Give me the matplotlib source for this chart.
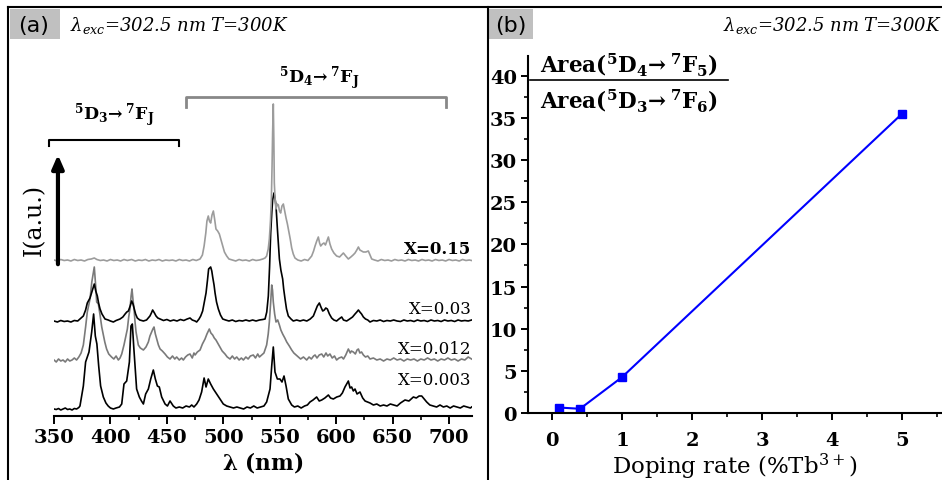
import matplotlib
matplotlib.use("Agg")
import matplotlib.pyplot as plt
from matplotlib.lines import Line2D
from matplotlib.patches import Rectangle
from matplotlib.ticker import MultipleLocator

plt.rcParams['font.family'] = ['DejaVu Serif']
plt.rcParams['mathtext.fontset'] = 'dejavuserif'

# emission spectra, (wavelength nm, intensity a.u. above own baseline)
spec_003 = [(350, 1), (352, 0.5), (354, 1.5), (356, 0), (358, 1), (360, 2), (362, 0.5), (364, 1), (366, 0), (368, 1.5),
	(370, 1), (372, 2.5), (373, 4), (376, 24), (378, 48), (381, 58), (383.4, 78), (385.1, 96), (386.6, 74), (388, 66),
	(389.6, 44), (391.3, 24), (393.7, 13), (396, 7), (398, 4), (400, 2), (402.6, 1), (405, 2), (408, 3), (410, 6),
	(412, 26), (414.4, 29), (416.8, 48), (418.2, 84), (419.4, 86), (420.6, 64), (421.8, 44), (423.2, 21), (425.6, 13), (427.5, 9),
	(429.2, 6), (431.2, 16), (433.6, 21), (435.7, 31), (438, 40), (439.8, 31), (441.6, 24), (443.3, 23), (445.4, 13), (448.4, 6),
	(450.5, 4), (452.8, 9), (455.7, 4), (458, 2), (461, 3), (464, 2), (467, 4), (470, 3), (472, 5), (474, 3),
	(476.4, 6), (478.5, 10), (480.8, 18), (483, 32), (484.7, 23), (486.7, 31), (488.8, 26), (491.2, 21), (494.1, 16), (497.1, 11),
	(500, 6), (503, 4), (506, 3), (509, 2), (512, 3), (515, 2), (518, 1), (521, 3), (524, 2), (527, 4),
	(530, 2), (533, 3), (536, 4), (538.4, 8), (541.4, 21), (542.9, 44), (544.3, 63), (545.8, 38), (547.9, 31), (550.2, 31),
	(552, 28), (553.8, 34), (555.6, 24), (557.6, 11), (560.6, 5), (563, 3), (566, 4), (569, 2), (572, 4), (574.5, 5),
	(576.8, 8), (579.5, 10), (582.7, 13), (585, 9), (587.2, 10), (590, 12), (593.1, 15), (595, 12), (597.5, 11), (600.5, 13),
	(603.4, 14), (605.5, 17), (607.8, 23), (610.8, 29), (612.3, 22), (613.7, 23), (615.2, 19), (616.7, 21), (618.5, 16), (621.1, 18),
	(623.5, 12), (625.6, 9), (630, 7), (633, 5), (636, 6), (639, 4), (642, 5), (645, 4), (648, 6), (651, 5),
	(654, 4), (657, 7), (661, 10), (664.5, 9), (668.4, 13), (671, 12), (673.5, 14), (675.8, 14), (678, 11), (680.2, 8),
	(683, 5), (686, 4), (689, 3), (692, 5), (695, 3), (698, 4), (701, 2), (704, 4), (707, 3), (710, 2),
	(713, 4), (716, 3), (719, 2), (720, 3)]

spec_012 = [(350, 2), (352, 0), (354, 3), (356, 1), (358, 2), (360, 0), (362, 3), (364, 1), (366, 2), (368, 4),
	(370, 2), (372, 5), (374, 9), (376, 17), (378, 35), (379.5, 50), (381.9, 63), (383.5, 80), (385.7, 95), (387, 75),
	(387.8, 60), (389.3, 58), (390.8, 47), (392.3, 35), (393.7, 27), (395, 20), (396.6, 13), (398.5, 8), (401, 5), (403, 3),
	(405, 6), (407, 2), (408.5, 4), (410, 8), (412, 17), (413.5, 25), (415, 33), (416.2, 45), (417.3, 53), (418.3, 66),
	(419.1, 73), (420, 62), (420.9, 53), (421.8, 40), (422.7, 30), (424.7, 17), (426.5, 14), (429.2, 12), (431.5, 15), (433.6, 20),
	(435, 26), (436.5, 30), (437.6, 33), (438.6, 35), (439.8, 28), (441, 23), (442.5, 17), (444, 13), (446, 11), (448.4, 8),
	(450.5, 5), (452.8, 3), (455, 6), (457, 3), (458.7, 5), (461, 2), (463, 4), (464.6, 2), (466.5, 5), (468.5, 7),
	(470.5, 8), (472.5, 4), (474, 9), (475, 7), (477, 10), (479.4, 12), (481.5, 18), (483.8, 23), (485.5, 28), (487.6, 33),
	(489, 29), (490.6, 27), (492, 24), (493.5, 22), (495, 19), (497, 15), (499, 11), (501.5, 8), (503.5, 5), (506, 3),
	(508, 6), (510, 3), (511.9, 5), (514, 2), (516, 4), (517.8, 2), (520, 5), (522, 3), (524, 6), (526.6, 7),
	(528.5, 4), (530.5, 8), (532, 5), (534, 7), (536, 9), (538.4, 17), (539.8, 28), (540.8, 40), (542, 60), (542.9, 77),
	(543.6, 72), (544.3, 60), (545.5, 48), (546.7, 40), (548.2, 42), (549.7, 37), (551, 32), (552.6, 28), (554.5, 24), (556.2, 20),
	(558.5, 16), (560.6, 12), (562.5, 9), (564.5, 7), (566.5, 5), (568.5, 3), (571, 5), (573.9, 2), (576, 5), (578, 3),
	(580, 6), (581.3, 7), (583, 4), (585, 7), (587.2, 8), (589, 5), (591, 9), (592.5, 6), (594.5, 8), (596.5, 4),
	(598.5, 6), (600.4, 2), (602.5, 4), (604.9, 5), (606.5, 3), (608.5, 7), (610.8, 13), (612.5, 9), (613.5, 11), (615.2, 10),
	(617, 8), (618.5, 12), (619.7, 13), (621, 9), (622.5, 10), (624.1, 7), (626, 5), (628, 6), (630, 3), (633, 4),
	(636, 2), (639, 3), (642, 1), (645, 3), (648, 2), (651, 4), (654, 2), (657, 3), (660, 1), (663, 3),
	(666, 2), (669, 3), (672, 1), (675, 3), (678, 2), (681, 4), (684, 2), (687, 3), (690, 1), (693, 3),
	(696, 2), (699, 4), (702, 2), (705, 3), (708, 1), (711, 3), (714, 2), (717, 5), (720, 3)]

spec_03 = [(350, 1), (353, 0), (356, 1.5), (359, 0.5), (362, 1), (365, 0), (368, 1.5), (371, 1), (373, 3), (376, 6),
	(378, 12), (379.5, 19), (381.9, 24), (383.5, 30), (385.7, 38), (387, 31), (388.4, 26), (389.5, 19), (390.8, 13), (392.5, 8),
	(395.2, 3), (398, 2), (400, 1), (402.6, 0), (405, 1.5), (408.5, 3), (411, 5), (413, 8), (414.5, 10), (415.9, 11),
	(417.5, 16), (418.8, 21), (420, 18), (420.9, 14), (422.3, 8), (423.8, 4), (426, 2), (429.2, 1), (432, 2), (435, 6),
	(436.3, 9), (437.4, 12), (439, 9), (440.4, 6), (442, 4), (444, 3), (447, 1.5), (450, 2.5), (453, 1), (456, 2),
	(459, 1), (462, 2.5), (465, 1.5), (468, 3), (470.5, 4), (472.5, 2), (475, 1), (476.4, 0), (478.5, 3), (480, 6),
	(481.7, 11), (483.2, 20), (484.7, 29), (486, 42), (487, 53), (488.8, 55), (489.8, 51), (490.6, 45), (491.8, 37), (492.7, 29),
	(494, 20), (495.6, 13), (497.5, 7), (499.5, 3), (502, 2), (505, 1), (508, 2), (511, 0.5), (514, 1.5), (517, 1),
	(520, 2), (523, 1), (526, 2), (529, 1), (532, 2), (535, 2.5), (537, 3), (538.5, 10), (539.9, 26), (541, 55),
	(542, 89), (543, 110), (543.7, 122), (544.9, 129), (545.8, 124), (546.7, 116), (548, 92), (549.7, 63), (551, 52), (552.6, 43),
	(553.5, 33), (554.7, 23), (556, 13), (557.6, 6), (560, 3), (562, 1), (565, 2), (568, 1), (571, 2), (574, 1),
	(577, 3), (579.8, 6), (581.5, 11), (583.3, 16), (585.1, 19), (586.5, 15), (588.1, 11), (589.5, 12), (590.8, 14), (592.2, 13),
	(594, 8), (596, 4), (598, 2), (600.4, 1), (602.5, 3), (604.9, 5), (606.5, 2), (609.3, 1), (612, 3), (614.5, 5),
	(616.7, 8), (618.3, 10), (619.7, 12), (621, 10), (622.5, 8), (624.1, 5), (626, 3), (628, 2), (630, 0), (633, 1.5),
	(636, 1), (639, 2), (642, 0.5), (645, 1.5), (648, 1), (651, 2), (654, 1), (657, 0.5), (660, 2), (663, 1),
	(666, 1.5), (669, 0.5), (672, 2), (675, 1), (678, 1.5), (681, 0.5), (684, 2), (687, 1), (690, 1.5), (693, 0.5),
	(696, 2), (699, 1), (702, 1.5), (705, 0.5), (708, 2), (711, 1), (714, 1.5), (717, 1), (720, 2)]

spec_15 = [(350, 1), (353, 0), (356, 1.5), (359, 0.5), (362, 1), (365, 0), (368, 1.5), (371, 0.5), (374, 1), (377, 0),
	(380, 1.5), (383, 2), (385.7, 3), (388, 1.5), (391, 0.5), (394, 1), (397, 0), (400, 1.5), (403, 0.5), (406, 1),
	(409, 0), (412, 1.5), (415, 0.5), (418.8, 1.5), (422, 0), (425, 1), (428, 0.5), (431, 1.5), (434, 0), (437, 1),
	(440, 0.5), (443, 1.5), (446, 0), (449, 1), (452, 0.5), (455, 1), (458, 0), (461, 1.5), (464, 0.5), (467, 1),
	(470, 0), (473, 1.5), (476, 0.5), (479.4, 2), (481.5, 6), (483, 15), (484.5, 28), (485.5, 40), (486.7, 45), (487.7, 40),
	(488.8, 38), (490, 46), (491.2, 50), (492.3, 42), (493.5, 32), (495, 30), (496.5, 27), (498, 21), (499.5, 15), (501, 9),
	(503, 5), (505, 2), (508, 1), (511, 0), (514, 1.5), (517, 0.5), (520, 1), (523, 0), (526, 1.5), (529, 0.5),
	(532, 1), (535, 2), (537, 3), (538.4, 5), (539.8, 12), (540.8, 22), (541.8, 40), (542.6, 62), (543.2, 95), (543.7, 128),
	(544.3, 157), (544.8, 120), (545.2, 78), (546, 60), (546.7, 52), (547.8, 57), (548.8, 56), (549.8, 50), (550.8, 48), (552, 55),
	(553.2, 57), (554.4, 50), (555.6, 43), (556.8, 37), (558, 30), (559.3, 22), (560.6, 13), (562, 7), (563.5, 3), (566, 1),
	(569, 0), (572, 1.5), (575, 0.5), (578.3, 5), (580, 10), (581.3, 15), (582.8, 20), (584.2, 24), (585.3, 18), (586.3, 15),
	(587.8, 17), (589.2, 18), (590.5, 16), (591.8, 20), (593.1, 24), (594.5, 17), (596, 12), (598, 8), (600.4, 5), (603, 4),
	(606.4, 8), (608.5, 5), (610.8, 2), (613, 4), (615, 6), (616.7, 8), (618.3, 11), (619.7, 14), (621, 11), (622.5, 10),
	(624.1, 9), (626.3, 9), (628.5, 10), (630, 6), (631.5, 2), (634, 1), (637, 0), (640, 1.5), (643, 0.5), (646, 1),
	(649, 0), (652, 1.5), (655, 0.5), (658, 1), (661, 0), (664, 1.5), (667, 0.5), (670, 1), (673, 0), (676, 1.5),
	(679, 0.5), (682, 1), (685, 0), (688, 1.5), (691, 0.5), (694, 1), (697, 0), (700, 1.5), (703, 0.5), (706, 1),
	(709, 0), (712, 1.5), (715, 0.5), (718, 1), (720, 0.5)]

spec_labels = ["X=0.003", "X=0.012", "X=0.03", "X=0.15"]

# area ratio vs doping
doping = [0.1, 0.4, 1, 5]
ratio = [0.65, 0.5, 4.25, 35.5]

W, H = 942, 481

def fx(px):
	return px / W

def fy(py):
	return 1 - py / H

fig = plt.figure(figsize=(9.42, 4.81), dpi=100)

# ---- panel (a)
ax1 = fig.add_axes([fx(54), fy(417), fx(471.6) - fx(54), fy(8) - fy(417)])
ax1.set_xlim(350, 720)
ax1.set_ylim(0, 409)

curves = [
	(spec_003, 6, "black", 1.2),
	(spec_012, 54, "#7a7a7a", 1.2),
	(spec_03, 94, "black", 1.2),
	(spec_15, 155, "#9c9c9c", 1.2),
]
for pts, off, col, lw in curves:
	wl = [p[0] for p in pts]
	inten = [p[1] + off for p in pts]
	ax1.plot(wl, inten, color=col, lw=lw)

for name, yy, wt in zip(spec_labels, [36, 67, 108, 167], ["normal", "normal", "normal", "bold"]):
	ax1.text(720, yy, name, ha="right", va="center", fontsize=12, fontweight=wt)

for s in ["top", "left", "right"]:
	ax1.spines[s].set_visible(False)
ax1.spines["bottom"].set_linewidth(1.5)
ax1.set_yticks([])
ax1.xaxis.set_major_locator(MultipleLocator(50))
ax1.xaxis.set_minor_locator(MultipleLocator(25))
ax1.tick_params(axis="x", which="major", direction="out", length=6, width=1.4, labelsize=14, pad=3)
ax1.tick_params(axis="x", which="minor", direction="out", length=3, width=1.2)
for lbl in ax1.get_xticklabels():
	lbl.set_fontweight("bold")
ax1.set_xlabel(r"$\mathbf{\lambda}$ (nm)", fontsize=15.5, fontweight="bold", labelpad=2)

# brackets
ax1.plot([345.6, 345.6, 460.8, 460.8], [270, 276, 276, 270], color="black", lw=1.5, clip_on=False)
ax1.plot([467, 467, 697.3, 697.3], [309, 319, 319, 309], color="#888888", lw=2, clip_on=False)
ax1.text(403, 302, r"$\mathbf{^5D_3\!\rightarrow{}^7F_J}$", ha="center", va="center", fontsize=12.5)
ax1.text(585, 339, r"$\mathbf{^5D_4\!\rightarrow{}^7F_J}$", ha="center", va="center", fontsize=12.5)

# intensity arrow
ax1.annotate("", xy=(353.5, 264), xytext=(353.5, 149),
	arrowprops=dict(arrowstyle="-|>,head_width=0.35,head_length=0.8", lw=3, color="black"),
	annotation_clip=False)
ax1.text(333, 197, "I(a.u.)", rotation=90, ha="center", va="center", fontsize=17, clip_on=False)

# ---- panel (b)
ax2 = fig.add_axes([fx(528), fy(414), fx(942) - fx(528), fy(57) - fy(414)])
ax2.set_xlim(-0.343, 5.571)
ax2.set_ylim(0, 42.35)
ax2.plot(doping, ratio, color="#0000ff", lw=1.5, marker="s", ms=6)
for s in ["top", "right"]:
	ax2.spines[s].set_visible(False)
ax2.spines["bottom"].set_linewidth(1.5)
ax2.spines["left"].set_linewidth(1.5)
ax2.xaxis.set_major_locator(MultipleLocator(1))
ax2.xaxis.set_minor_locator(MultipleLocator(0.5))
ax2.yaxis.set_major_locator(MultipleLocator(5))
ax2.yaxis.set_minor_locator(MultipleLocator(2.5))
ax2.set_yticks(range(0, 45, 5))
ax2.tick_params(which="major", direction="out", length=5, width=1.4, labelsize=14)
ax2.tick_params(which="minor", direction="out", length=3, width=1.2)
ax2.tick_params(axis="x", pad=8)
ax2.tick_params(axis="y", pad=3)
for lbl in ax2.get_xticklabels() + ax2.get_yticklabels():
	lbl.set_fontweight("bold")
ax2.set_xlabel(r"Doping rate (%Tb$^{3+}$)", fontsize=16.5, labelpad=1)

fig.text(fx(540), fy(65), r"$\mathbf{Area(^5D_4\!\rightarrow{}^7F_5)}$", ha="left", va="center", fontsize=15.5)
fig.text(fx(540), fy(101), r"$\mathbf{Area(^5D_3\!\rightarrow{}^7F_6)}$", ha="left", va="center", fontsize=15.5)
fig.add_artist(Line2D([fx(530), fx(728)], [fy(81), fy(81)], color="black", lw=1.2))

# ---- frame and panel tags
fig.add_artist(Line2D([fx(8), fx(8)], [fy(8), 0], color="black", lw=1.5))
fig.add_artist(Line2D([fx(8), 1], [fy(8), fy(8)], color="black", lw=1.5))
fig.add_artist(Line2D([fx(488), fx(488)], [fy(8), 0], color="black", lw=1.5))
fig.add_artist(Rectangle((fx(10), fy(40)), fx(60) - fx(10), fy(10) - fy(40), color="#c0c0c0", lw=0))
fig.add_artist(Rectangle((fx(489), fy(40)), fx(533) - fx(489), fy(10) - fy(40), color="#c0c0c0", lw=0))
fig.text(fx(34), fy(26), "(a)", ha="center", va="center", fontsize=16, family="DejaVu Sans")
fig.text(fx(511), fy(26), "(b)", ha="center", va="center", fontsize=16, family="DejaVu Sans")
fig.text(fx(70), fy(25), r"$\lambda_{exc}$=302.5 nm T=300K", ha="left", va="center", fontsize=13, style="italic")
fig.text(fx(942), fy(25), r"$\lambda_{exc}$=302.5 nm T=300K", ha="right", va="center", fontsize=13, style="italic")

fig.savefig("out.png", dpi=100)
